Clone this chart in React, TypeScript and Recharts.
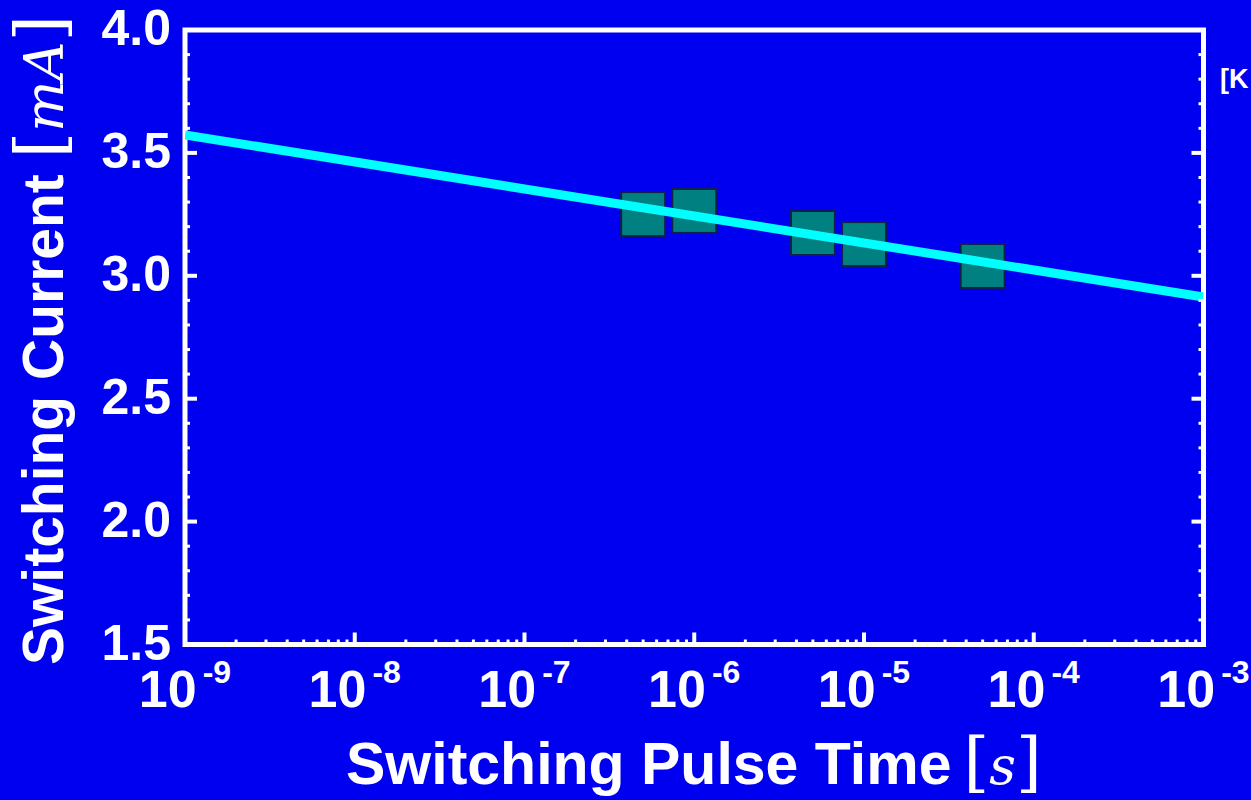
import React from "react";
import {
  ComposedChart,
  Scatter,
  XAxis,
  YAxis,
  ReferenceArea,
} from "recharts";

// measured points (pulse time [s], switching current [mA])
const pulseTimes = [5e-7, 1e-6, 5e-6, 1e-5, 5e-5];
const currents = [3.251, 3.264, 3.174, 3.129, 3.04];

// fitted line end points
const fitTimes = [1e-9, 1e-3];
const fitCurrents = [3.573, 2.914];

const xDecades = [-9, -8, -7, -6, -5, -4, -3];
const xMinorMultipliers = [2, 3, 4, 5, 6, 7, 8, 9];
const yMajorTicks = [1.5, 2.0, 2.5, 3.0, 3.5, 4.0];
const yMinorTicks = [
  1.6, 1.7, 1.8, 1.9, 2.1, 2.2, 2.3, 2.4, 2.6, 2.7, 2.8, 2.9, 3.1, 3.2, 3.3,
  3.4, 3.6, 3.7, 3.8, 3.9,
];

const BG = "#0000f0";
const WHITE = "#ffffff";
const SANS = "'Liberation Sans', Arial, sans-serif";
const SERIF = "'DejaVu Serif', 'Liberation Serif', serif";

const xMajorTicks = xDecades.map((d) => Math.pow(10, d));
const xMinorTicks: number[] = [];
xDecades.slice(0, -1).forEach((d) => {
  xMinorMultipliers.forEach((m) => xMinorTicks.push(m * Math.pow(10, d)));
});
const xTicks = [...xMajorTicks, ...xMinorTicks].sort((a, b) => a - b);
const yTicks = [...yMajorTicks, ...yMinorTicks].sort((a, b) => a - b);

const points = pulseTimes.map((x, i) => ({ x, y: currents[i] }));
const fitLine = fitTimes.map((x, i) => ({ x, y: fitCurrents[i] }));

const isDecade = (v: number) =>
  Math.abs(Math.log10(v) - Math.round(Math.log10(v))) < 1e-6;
const isHalf = (v: number) => Math.abs(v * 2 - Math.round(v * 2)) < 1e-6;

const BottomTick = (props: any) => {
  const { x, y, payload } = props;
  const major = isDecade(payload.value);
  const exp = Math.round(Math.log10(payload.value));
  return (
    <g>
      <line
        x1={x}
        y1={y}
        x2={x}
        y2={y - (major ? 12 : 5)}
        stroke={WHITE}
        strokeWidth={major ? 4 : 3}
      />
      {major && (
        <text
          x={x}
          y={y + 62}
          textAnchor="middle"
          fill={WHITE}
          fontFamily={SANS}
          fontWeight="bold"
          fontSize={52}
        >
          10
          <tspan dx={6} dy={-24} fontSize={32}>
            {exp}
          </tspan>
        </text>
      )}
    </g>
  );
};

const TopTick = (props: any) => {
  const { x, y, payload } = props;
  const major = isDecade(payload.value);
  return (
    <line
      x1={x}
      y1={y}
      x2={x}
      y2={y + (major ? 12 : 5)}
      stroke={WHITE}
      strokeWidth={major ? 4 : 3}
    />
  );
};

const LeftTick = (props: any) => {
  const { x, y, payload } = props;
  const major = isHalf(payload.value);
  return (
    <g>
      <line
        x1={x}
        y1={y}
        x2={x + (major ? 12 : 5)}
        y2={y}
        stroke={WHITE}
        strokeWidth={major ? 4 : 3}
      />
      {major && (
        <text
          x={x - 14}
          y={y + 15}
          textAnchor="end"
          fill={WHITE}
          fontFamily={SANS}
          fontWeight="bold"
          fontSize={50}
        >
          {payload.value.toFixed(1)}
        </text>
      )}
    </g>
  );
};

const RightTick = (props: any) => {
  const { x, y, payload } = props;
  const major = isHalf(payload.value);
  return (
    <line
      x1={x}
      y1={y}
      x2={x - (major ? 12 : 5)}
      y2={y}
      stroke={WHITE}
      strokeWidth={major ? 4 : 3}
    />
  );
};

const SquareShape = (props: any) => {
  const { cx, cy } = props;
  return (
    <rect
      x={cx - 22}
      y={cy - 22}
      width={44}
      height={44}
      fill="#008080"
      stroke="#10204a"
      strokeWidth={2}
    />
  );
};

const NoShape = () => <g />;

export default function App() {
  return (
    <div
      style={{
        position: "absolute",
        left: 0,
        top: 0,
        width: 1251,
        height: 800,
        background: BG,
        overflow: "hidden",
      }}
    >
      <ComposedChart
        width={1251}
        height={800}
        margin={{ top: 29, right: 46.5, bottom: 154.5, left: 184 }}
      >
        <XAxis
          xAxisId="b"
          dataKey="x"
          type="number"
          scale="log"
          domain={[1e-9, 1e-3]}
          allowDataOverflow
          ticks={xTicks}
          interval={0}
          height={1}
          tickSize={0}
          tickMargin={0}
          axisLine={false}
          tickLine={false}
          tick={(p: any) => <BottomTick {...p} />}
        />
        <XAxis
          xAxisId="t"
          orientation="top"
          type="number"
          scale="log"
          domain={[1e-9, 1e-3]}
          allowDataOverflow
          ticks={xTicks}
          interval={0}
          height={1}
          tickSize={0}
          tickMargin={0}
          axisLine={false}
          tickLine={false}
          tick={(p: any) => <TopTick {...p} />}
        />
        <YAxis
          yAxisId="l"
          dataKey="y"
          type="number"
          domain={[1.5, 4.0]}
          allowDataOverflow
          ticks={yTicks}
          interval={0}
          width={1}
          tickSize={0}
          tickMargin={0}
          axisLine={false}
          tickLine={false}
          tick={(p: any) => <LeftTick {...p} />}
        />
        <YAxis
          yAxisId="r"
          orientation="right"
          type="number"
          domain={[1.5, 4.0]}
          allowDataOverflow
          ticks={yTicks}
          interval={0}
          width={1}
          tickSize={0}
          tickMargin={0}
          axisLine={false}
          tickLine={false}
          tick={(p: any) => <RightTick {...p} />}
        />
        <Scatter
          xAxisId="b"
          yAxisId="l"
          data={points}
          dataKey="y"
          shape={SquareShape}
          isAnimationActive={false}
        />
        <Scatter
          xAxisId="b"
          yAxisId="l"
          data={fitLine}
          dataKey="y"
          shape={NoShape}
          line={{ stroke: "#00ffff", strokeWidth: 9 }}
          lineType="joint"
          isAnimationActive={false}
        />
        <ReferenceArea
          xAxisId="b"
          yAxisId="l"
          x1={1e-9}
          x2={1e-3}
          y1={1.5}
          y2={4.0}
          fill="none"
          stroke={WHITE}
          strokeWidth={5}
          ifOverflow="visible"
        />
        <text
          x={346}
          y={784}
          fill={WHITE}
          fontFamily={SANS}
          fontWeight="bold"
          fontSize={59}
        >
          Switching Pulse Time
          <tspan dx={12} fontFamily={SERIF} fontWeight="normal" fontSize={66}>
            [
          </tspan>
          <tspan fontFamily={SERIF} fontWeight="normal" fontStyle="italic" fontSize={52}>
            s
          </tspan>
          <tspan fontFamily={SERIF} fontWeight="normal" fontSize={66}>
            ]
          </tspan>
        </text>
        <text
          transform="translate(63,665) rotate(-90)"
          fill={WHITE}
          fontFamily={SANS}
          fontWeight="bold"
          fontSize={57}
        >
          Switching Current{" "}
          <tspan fontFamily={SERIF} fontWeight="normal" fontSize={68}>
            [
          </tspan>
          <tspan fontFamily={SERIF} fontWeight="normal" fontStyle="italic" fontSize={54}>
            mA
          </tspan>
          <tspan fontFamily={SERIF} fontWeight="normal" fontSize={68}>
            ]
          </tspan>
        </text>
        <text
          x={1220}
          y={88}
          fill={WHITE}
          fontFamily={SANS}
          fontWeight="bold"
          fontSize={27}
        >
          [K
        </text>
      </ComposedChart>
    </div>
  );
}
